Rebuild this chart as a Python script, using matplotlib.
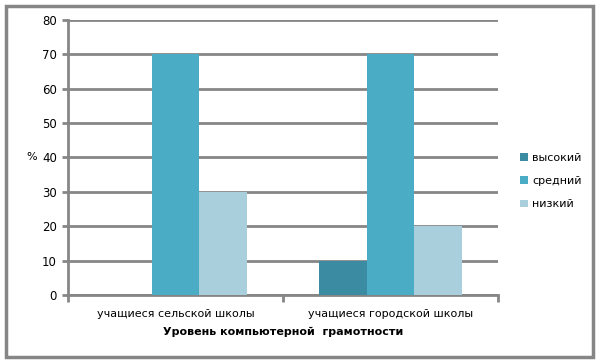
import matplotlib
matplotlib.use("Agg")
import matplotlib.pyplot as plt
import numpy as np
from matplotlib.patches import Rectangle

categories = ["учащиеся сельской школы", "учащиеся городской школы"]
series_names = ["высокий", "средний", "низкий"]
vysokiy = [0, 10]
sredniy = [70, 70]
nizkiy = [30, 20]
colors = ["#3B8CA2", "#4BACC6", "#A9CFDC"]
yticks = [0, 10, 20, 30, 40, 50, 60, 70, 80]

plt.rcParams['font.family'] = ['DejaVu Sans']
fig = plt.figure(figsize=(5.96, 3.61), dpi=100)
fig.patch.set_facecolor("white")
ax = fig.add_axes([68/596, 1-295/361, 430/596, 275/361])

grid_c = "#868686"
x = np.arange(len(categories))
w = 0.223
for i, (vals, name) in enumerate(zip([vysokiy, sredniy, nizkiy], series_names)):
    ax.bar(x + (i-1)*w, vals, width=w, color=colors[i], label=name, zorder=3)

ax.set_xlim(-0.5, 1.5)
ax.set_ylim(0, 80)
ax.set_yticks(yticks)
ax.set_yticklabels([str(v) for v in yticks], fontsize=8.5)
ax.yaxis.grid(True, color=grid_c, linewidth=2, zorder=0)
ax.set_axisbelow(True)
for s in ["top", "right"]:
    ax.spines[s].set_visible(False)
for s in ["left", "bottom"]:
    ax.spines[s].set_color(grid_c)
    ax.spines[s].set_linewidth(2)
ax.tick_params(axis="y", length=4, width=2, color=grid_c, pad=4)
ax.set_xticks([-0.5, 0.5, 1.5])
ax.set_xticklabels([])
ax.tick_params(axis="x", length=5, width=2, color=grid_c)
for xi, c in zip(x, categories):
    ax.text(xi, -0.05, c, transform=ax.get_xaxis_transform(), ha="center", va="top", fontsize=8)
ax.text(0.5, -0.115, "Уровень компьютерной  грамотности", transform=ax.transAxes,
        ha="center", va="top", fontsize=8, fontweight="bold")
fig.text(32/596, 1-157/361, "%", ha="center", va="center", fontsize=8)

ax.legend(loc="center left", bbox_to_anchor=(510/596, 1-181/361), bbox_transform=fig.transFigure,
          frameon=False, fontsize=8, handlelength=0.7, handleheight=0.7, labelspacing=1.2, handletextpad=0.4)

fig.patches.append(Rectangle((6/596, 1-357/361), 587/596, 351/361, transform=fig.transFigure,
                             fill=False, edgecolor=grid_c, linewidth=2.5))
fig.savefig("out.png", dpi=100, facecolor="white")
